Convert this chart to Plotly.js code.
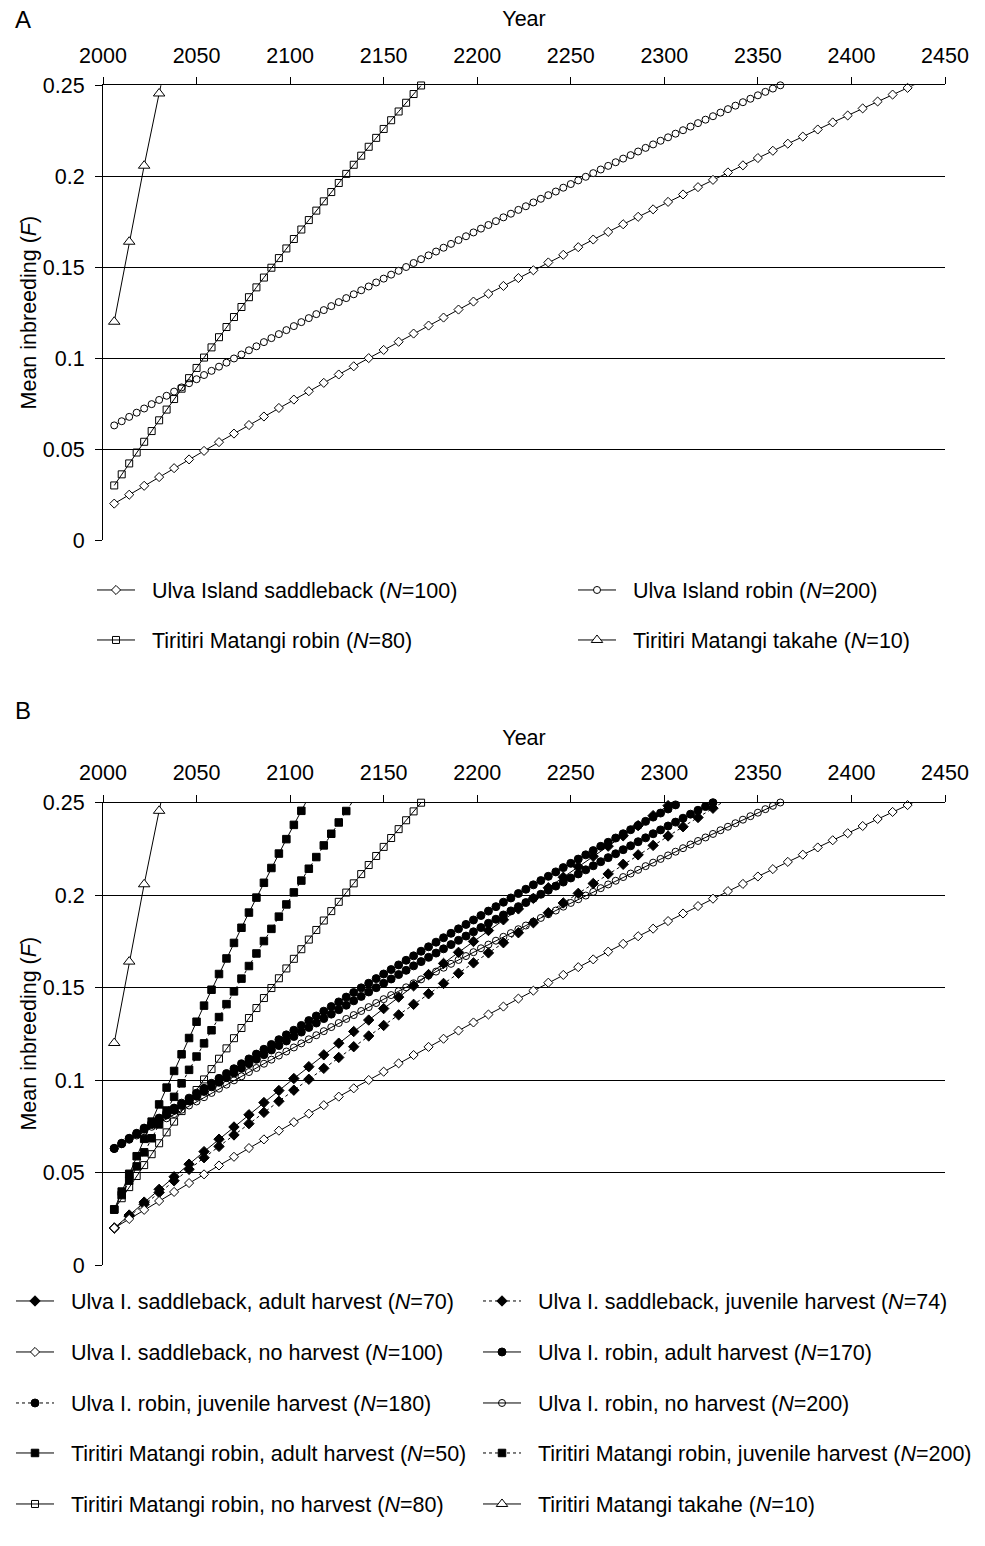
<!DOCTYPE html>
<html><head><meta charset="utf-8">
<script src="https://cdn.plot.ly/plotly-3.0.1.min.js"></script>
<style>html,body{margin:0;padding:0;background:#fff}#chart{width:985px;height:1546px}</style>
</head><body><div id="chart"></div>
<script>
// ---- Data (years and mean inbreeding F) ----
const years8 = [2006,2014,2022,2030,2038,2046,2054,2062,2070,2078,2086,2094,2102,2110,2118,2126,2134,2142,2150,2158,2166,2174,2182,2190,2198,2206,2214,2222,2230,2238,2246,2254,2262,2270,2278,2286,2294,2302,2310,2318,2326,2334,2342,2350,2358,2366,2374,2382,2390,2398,2406,2414,2422,2430,2438];
const years4 = [2006,2010,2014,2018,2022,2026,2030,2034,2038,2042,2046,2050,2054,2058,2062,2066,2070,2074,2078,2082,2086,2090,2094,2098,2102,2106,2110,2114,2118,2122,2126,2130,2134,2138,2142,2146,2150,2154,2158,2162,2166,2170,2174,2178,2182,2186,2190,2194,2198,2202,2206,2210,2214,2218,2222,2226,2230,2234,2238,2242,2246,2250,2254,2258,2262,2266,2270,2274,2278,2282,2286,2290,2294,2298,2302,2306,2310,2314,2318,2322,2326,2330,2334,2338,2342,2346,2350,2354,2358,2362];

const saddleNoHarvest = [0.0200,0.0249,0.0298,0.0346,0.0395,0.0443,0.0490,0.0538,0.0585,0.0632,0.0679,0.0726,0.0772,0.0818,0.0864,0.0910,0.0955,0.1000,0.1045,0.1090,0.1135,0.1179,0.1223,0.1267,0.1311,0.1354,0.1397,0.1440,0.1483,0.1526,0.1568,0.1610,0.1652,0.1694,0.1736,0.1777,0.1818,0.1859,0.1900,0.1940,0.1980,0.2021,0.2060,0.2100,0.2140,0.2179,0.2218,0.2257,0.2296,0.2334,0.2373,0.2411,0.2449,0.2486,0.2524];
const robinNoHarvest = [0.0630,0.0653,0.0677,0.0700,0.0723,0.0747,0.0770,0.0793,0.0816,0.0839,0.0862,0.0884,0.0907,0.0930,0.0953,0.0975,0.0998,0.1020,0.1043,0.1065,0.1088,0.1110,0.1132,0.1154,0.1176,0.1198,0.1220,0.1242,0.1264,0.1286,0.1308,0.1330,0.1351,0.1373,0.1394,0.1416,0.1437,0.1459,0.1480,0.1501,0.1523,0.1544,0.1565,0.1586,0.1607,0.1628,0.1649,0.1670,0.1691,0.1712,0.1732,0.1753,0.1774,0.1794,0.1815,0.1835,0.1856,0.1876,0.1896,0.1916,0.1937,0.1957,0.1977,0.1997,0.2017,0.2037,0.2057,0.2077,0.2097,0.2116,0.2136,0.2156,0.2175,0.2195,0.2214,0.2234,0.2253,0.2273,0.2292,0.2311,0.2330,0.2350,0.2369,0.2388,0.2407,0.2426,0.2445,0.2464,0.2482,0.2500];
const tiritiriNoHarvest = [0.0300,0.0361,0.0421,0.0481,0.0540,0.0599,0.0658,0.0717,0.0775,0.0832,0.0890,0.0946,0.1003,0.1059,0.1115,0.1171,0.1226,0.1281,0.1335,0.1389,0.1443,0.1497,0.1550,0.1603,0.1655,0.1707,0.1759,0.1811,0.1862,0.1913,0.1963,0.2013,0.2063,0.2113,0.2162,0.2211,0.2260,0.2308,0.2356,0.2404,0.2452,0.2499];
const takahe = [0.1200,0.1640,0.2058,0.2455,0.2832];
const saddleAdult = [0.0200,0.0270,0.0340,0.0409,0.0477,0.0545,0.0613,0.0680,0.0746,0.0812,0.0878,0.0943,0.1008,0.1072,0.1136,0.1199,0.1262,0.1324,0.1386,0.1448,0.1509,0.1570,0.1630,0.1690,0.1749,0.1808,0.1866,0.1925,0.1982,0.2039,0.2096,0.2153,0.2209,0.2264,0.2320,0.2375,0.2429,0.2483,0.2537];
const saddleJuvenile = [0.0200,0.0264,0.0328,0.0392,0.0455,0.0517,0.0580,0.0641,0.0703,0.0764,0.0825,0.0885,0.0945,0.1004,0.1063,0.1122,0.1180,0.1238,0.1295,0.1352,0.1409,0.1466,0.1522,0.1577,0.1633,0.1687,0.1742,0.1796,0.1850,0.1904,0.1957,0.2009,0.2062,0.2114,0.2166,0.2217,0.2268,0.2319,0.2369,0.2419,0.2469,0.2519];
const robinAdult = [0.0630,0.0658,0.0685,0.0712,0.0740,0.0767,0.0794,0.0821,0.0848,0.0875,0.0902,0.0929,0.0955,0.0982,0.1009,0.1035,0.1061,0.1088,0.1114,0.1140,0.1166,0.1192,0.1218,0.1244,0.1269,0.1295,0.1321,0.1346,0.1372,0.1397,0.1422,0.1448,0.1473,0.1498,0.1523,0.1548,0.1573,0.1597,0.1622,0.1647,0.1671,0.1696,0.1720,0.1745,0.1769,0.1793,0.1817,0.1841,0.1865,0.1889,0.1913,0.1937,0.1961,0.1984,0.2008,0.2031,0.2055,0.2078,0.2101,0.2125,0.2148,0.2171,0.2194,0.2217,0.2240,0.2263,0.2285,0.2308,0.2331,0.2353,0.2376,0.2398,0.2421,0.2443,0.2465,0.2487,0.2509];
const robinJuvenile = [0.0630,0.0656,0.0682,0.0708,0.0734,0.0759,0.0785,0.0811,0.0836,0.0862,0.0887,0.0912,0.0938,0.0963,0.0988,0.1013,0.1038,0.1063,0.1088,0.1112,0.1137,0.1162,0.1186,0.1211,0.1235,0.1259,0.1284,0.1308,0.1332,0.1356,0.1380,0.1404,0.1428,0.1452,0.1476,0.1499,0.1523,0.1546,0.1570,0.1593,0.1617,0.1640,0.1663,0.1686,0.1709,0.1732,0.1755,0.1778,0.1801,0.1824,0.1847,0.1869,0.1892,0.1914,0.1937,0.1959,0.1982,0.2004,0.2026,0.2048,0.2070,0.2092,0.2114,0.2136,0.2158,0.2180,0.2202,0.2223,0.2245,0.2266,0.2288,0.2309,0.2331,0.2352,0.2373,0.2394,0.2415,0.2437,0.2458,0.2478,0.2499,0.2520];
const tiritiriAdult = [0.0300,0.0397,0.0493,0.0588,0.0682,0.0775,0.0868,0.0959,0.1049,0.1139,0.1227,0.1315,0.1402,0.1488,0.1573,0.1657,0.1741,0.1823,0.1905,0.1986,0.2066,0.2146,0.2224,0.2302,0.2379,0.2455,0.2531];
const tiritiriJuvenile = [0.0300,0.0378,0.0456,0.0533,0.0609,0.0685,0.0760,0.0835,0.0909,0.0982,0.1055,0.1127,0.1198,0.1269,0.1340,0.1410,0.1479,0.1548,0.1616,0.1684,0.1751,0.1817,0.1883,0.1949,0.2014,0.2078,0.2142,0.2205,0.2268,0.2331,0.2392,0.2454,0.2515];

const xTicks = [2000,2050,2100,2150,2200,2250,2300,2350,2400,2450];
const yTicks = [0,0.05,0.1,0.15,0.2,0.25];

const namesA = [
  'Ulva Island saddleback (<i>N</i>=100)', 'Ulva Island robin (<i>N</i>=200)',
  'Tiritiri Matangi robin (<i>N</i>=80)', 'Tiritiri Matangi takahe (<i>N</i>=10)'
];
const namesB = [
  'Ulva I. saddleback, adult harvest (<i>N</i>=70)', 'Ulva I. saddleback, juvenile harvest (<i>N</i>=74)',
  'Ulva I. saddleback, no harvest (<i>N</i>=100)', 'Ulva I. robin, adult harvest (<i>N</i>=170)',
  'Ulva I. robin, juvenile harvest (<i>N</i>=180)', 'Ulva I. robin, no harvest (<i>N</i>=200)',
  'Tiritiri Matangi robin, adult harvest (<i>N</i>=50)', 'Tiritiri Matangi robin, juvenile harvest (<i>N</i>=200)',
  'Tiritiri Matangi robin, no harvest (<i>N</i>=80)', 'Tiritiri Matangi takahe (<i>N</i>=10)'
];

// ---- Styling ----
const W = 985, H = 1546;
const FONT = 'Liberation Sans, Arial, sans-serif';
const FS = 21.5;
const PAD = '\u00a0\u00a0';

const M = {
  diaW: {symbol:'diamond', size:7, color:'white', line:{color:'black', width:1}},
  cirW: {symbol:'circle', size:7, color:'white', line:{color:'black', width:1}},
  cirO: {symbol:'circle-open', size:7, color:'black', line:{color:'black', width:1}},
  sqO:  {symbol:'square-open', size:7, color:'black', line:{color:'black', width:1}},
  triW: {symbol:'triangle-up', size:10, color:'white', line:{color:'black', width:1}},
  diaB: {symbol:'diamond', size:8, color:'black', line:{color:'black', width:1}},
  cirB: {symbol:'circle', size:8, color:'black', line:{color:'black', width:1}},
  sqB:  {symbol:'square', size:7.5, color:'black', line:{color:'black', width:1}}
};

function tr(name, x, y, marker, dash, legend, xa, ya) {
  return {
    type:'scatter', mode:'lines+markers', name: PAD + name,
    x: x.slice(0, y.length), y: y,
    marker: marker, line:{color:'black', width:1, dash: dash},
    legend: legend, xaxis: xa, yaxis: ya, cliponaxis:false, hoverinfo:'skip'
  };
}

const traces = [
  tr(namesA[0], years8, saddleNoHarvest, M.diaW, 'solid', 'legend', 'x', 'y'),
  tr(namesA[1], years4, robinNoHarvest, M.cirW, 'solid', 'legend2', 'x', 'y'),
  tr(namesA[2], years4, tiritiriNoHarvest, M.sqO, 'solid', 'legend3', 'x', 'y'),
  tr(namesA[3], years8, takahe, M.triW, 'solid', 'legend4', 'x', 'y'),

  tr(namesB[0], years8, saddleAdult, M.diaB, 'solid', 'legend5', 'x2', 'y2'),
  tr(namesB[1], years8, saddleJuvenile, M.diaB, 'dot', 'legend6', 'x2', 'y2'),
  tr(namesB[2], years8, saddleNoHarvest, M.diaW, 'solid', 'legend7', 'x2', 'y2'),
  tr(namesB[3], years4, robinAdult, M.cirB, 'solid', 'legend8', 'x2', 'y2'),
  tr(namesB[4], years4, robinJuvenile, M.cirB, 'dot', 'legend9', 'x2', 'y2'),
  tr(namesB[5], years4, robinNoHarvest, M.cirO, 'solid', 'legend10', 'x2', 'y2'),
  tr(namesB[6], years4, tiritiriAdult, M.sqB, 'solid', 'legend11', 'x2', 'y2'),
  tr(namesB[7], years4, tiritiriJuvenile, M.sqB, 'dot', 'legend12', 'x2', 'y2'),
  tr(namesB[8], years4, tiritiriNoHarvest, M.sqO, 'solid', 'legend13', 'x2', 'y2'),
  tr(namesB[9], years8, takahe, M.triW, 'solid', 'legend14', 'x2', 'y2')
];

function xAxis(anchor, standoff) {
  return {
    domain:[103/W, 945/W], range:[2000,2450], anchor: anchor, side:'top',
    tickmode:'array', tickvals:xTicks, ticktext:xTicks.map(String),
    ticks:'outside', ticklen:7, tickwidth:1, tickcolor:'black',
    showline:true, linecolor:'black', linewidth:1, showgrid:false, zeroline:false,
    tickfont:{family:FONT, size:FS, color:'black'}, ticklabelstandoff:6,
    title:{text:'Year', font:{family:FONT, size:FS, color:'black'}, standoff:standoff},
    fixedrange:true, automargin:false
  };
}
function yAxis(anchor, top, bottom) {
  return {
    domain:[1-bottom/H, 1-top/H], range:[0,0.25], anchor: anchor,
    tickmode:'array', tickvals:yTicks, ticktext:yTicks.map(String),
    ticks:'outside', ticklen:7, tickwidth:1, tickcolor:'black',
    showline:true, linecolor:'black', linewidth:1,
    showgrid:true, gridcolor:'black', gridwidth:1, zeroline:false,
    tickfont:{family:FONT, size:FS, color:'black'}, ticklabelstandoff:6,
    title:{text:'Mean inbreeding (<i>F</i>)', font:{family:FONT, size:FS, color:'black'}, standoff:0},
    fixedrange:true, automargin:false
  };
}
function leg(xpx, ypx) {
  return {
    x: xpx/W, y: 1-ypx/H, xanchor:'left', yanchor:'middle', orientation:'v',
    itemwidth:38, font:{family:FONT, size:FS, color:'black'}, bgcolor:'rgba(0,0,0,0)',
    borderwidth:0, itemclick:false, itemdoubleclick:false
  };
}

// legend placement: [x of entry start, y of row centre] in pixels
const legendPos = [
  [92, 590], [573, 590], [92, 640], [573, 640],
  [11, 1301], [478, 1301], [11, 1352], [478, 1352], [11, 1403], [478, 1403],
  [11, 1453], [478, 1453], [11, 1504], [478, 1504]
];

const layout = {
  width: W, height: H, margin:{l:0, r:0, t:0, b:0},
  paper_bgcolor:'white', plot_bgcolor:'white',
  font:{family:FONT, size:FS, color:'black'},
  xaxis: xAxis('y', 11), yaxis: yAxis('x', 85.3, 540),
  xaxis2: xAxis('y2', 9), yaxis2: yAxis('x2', 802.5, 1265),
  showlegend:true,
  annotations:[
    {text:'A', xref:'paper', yref:'paper', x:13/W, y:1-19/H, xanchor:'left', yanchor:'middle', showarrow:false, font:{family:FONT, size:24, color:'black'}},
    {text:'B', xref:'paper', yref:'paper', x:13/W, y:1-710/H, xanchor:'left', yanchor:'middle', showarrow:false, font:{family:FONT, size:24, color:'black'}}
  ]
};
legendPos.forEach(function(p, i) {
  layout[i === 0 ? 'legend' : 'legend' + (i + 1)] = leg(p[0], p[1]);
});

Plotly.newPlot('chart', traces, layout, {staticPlot:true, displayModeBar:false});
</script>
</body></html>
